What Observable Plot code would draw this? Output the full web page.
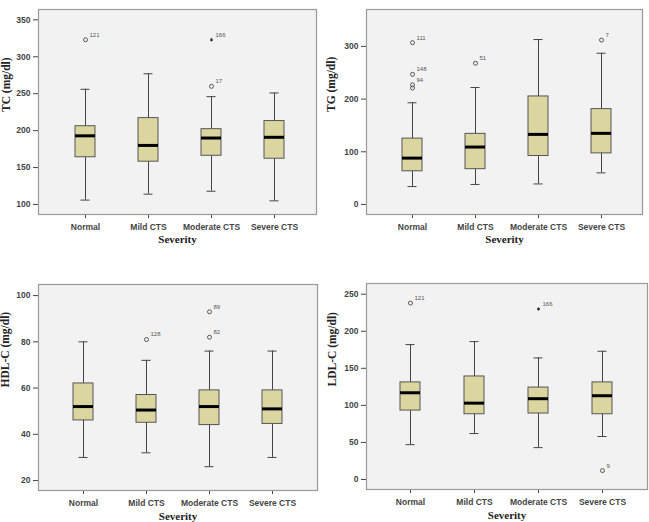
<!DOCTYPE html>
<html>
<head>
<meta charset="utf-8">
<script src="https://cdn.jsdelivr.net/npm/d3@7"></script>
<script src="https://cdn.jsdelivr.net/npm/@observablehq/plot@0.6"></script>
<style>
  body { margin: 0; background: #fff; }
  #grid { position: relative; width: 649px; height: 522px; }
  #grid > div { position: absolute; }
</style>
</head>
<body>
<div id="grid"></div>
<script>
// Severity groups shared by all four panels
const categories = ["Normal", "Mild CTS", "Moderate CTS", "Severe CTS"];

// Total cholesterol (TC)
const tcLow  = [106, 114, 118, 105];
const tcQ1   = [164, 158, 166, 162];
const tcMed  = [193, 180, 190, 191];
const tcQ3   = [206, 217, 202, 213];
const tcHigh = [256, 277, 246, 251];
const tcOutCat  = ["Normal", "Moderate CTS", "Moderate CTS"];
const tcOutVal  = [323, 260, 323];
const tcOutId   = ["121", "17", "166"];
const tcOutKind = ["o", "o", "*"];
const tcTicks = [100, 150, 200, 250, 300, 350];

// Triglycerides (TG)
const tgLow  = [34, 38, 39, 60];
const tgQ1   = [63, 67, 92, 97];
const tgMed  = [88, 109, 133, 135];
const tgQ3   = [125, 134, 205, 181];
const tgHigh = [193, 222, 313, 287];
const tgOutCat  = ["Normal", "Normal", "Normal", "Normal", "Mild CTS", "Severe CTS"];
const tgOutVal  = [307, 247, 227, 221, 268, 312];
const tgOutId   = ["111", "148", "94", "", "51", "7"];
const tgOutKind = ["o", "o", "o", "o", "o", "o"];
const tgTicks = [0, 100, 200, 300];

// HDL cholesterol
const hdlLow  = [30, 32, 26, 30];
const hdlQ1   = [46, 45, 44, 44.5];
const hdlMed  = [52, 50.5, 52, 51];
const hdlQ3   = [62, 57, 59, 59];
const hdlHigh = [80, 72, 76, 76];
const hdlOutCat  = ["Mild CTS", "Moderate CTS", "Moderate CTS"];
const hdlOutVal  = [81, 93, 82];
const hdlOutId   = ["128", "89", "82"];
const hdlOutKind = ["o", "o", "o"];
const hdlTicks = [20, 40, 60, 80, 100];

// LDL cholesterol
const ldlLow  = [47, 62, 43, 58];
const ldlQ1   = [93, 88, 89, 88];
const ldlMed  = [117, 103, 109, 113];
const ldlQ3   = [131, 139, 124, 131];
const ldlHigh = [182, 186, 164, 173];
const ldlOutCat  = ["Normal", "Moderate CTS", "Severe CTS"];
const ldlOutVal  = [238, 230, 12];
const ldlOutId   = ["121", "166", "9"];
const ldlOutKind = ["o", "*", "o"];
const ldlTicks = [0, 50, 100, 150, 200, 250];

function boxRows(low, q1, med, q3, high) {
  return categories.map((c, i) => ({cat: c, low: low[i], q1: q1[i], med: med[i], q3: q3[i], high: high[i]}));
}
function outRows(cat, val, id, kind) {
  return cat.map((c, i) => ({cat: c, v: val[i], id: id[i], kind: kind[i]}));
}

function panel({left, top, width, height, margin, domain, ticks, yLabel, boxes, outs, yLabelDx, xLabelDy, align}) {
  const circles = outs.filter(d => d.kind === "o");
  const stars = outs.filter(d => d.kind === "*");
  const chart = Plot.plot({
    width, height,
    marginLeft: margin[0], marginRight: margin[1], marginTop: margin[2], marginBottom: margin[3],
    style: {fontFamily: "'Liberation Sans', Arial, sans-serif", fontSize: "8.5px", fontWeight: "bold", color: "#444", background: "transparent", overflow: "visible"},
    x: {domain: categories, paddingInner: 0.685, paddingOuter: 0.53, align, tickSize: 4, tickPadding: 5, label: null},
    y: {domain, ticks, tickSize: 5, tickPadding: 3, label: null},
    marks: [
      Plot.frame({fill: "#f2f2f2", stroke: "#9a9a9a", strokeWidth: 1.2}),
      Plot.ruleX(boxes, {x: "cat", y1: "low", y2: "high", stroke: "#444", strokeWidth: 1}),
      Plot.tickY(boxes, {x: "cat", y: "low", stroke: "#444", insetLeft: 5.5, insetRight: 5.5}),
      Plot.tickY(boxes, {x: "cat", y: "high", stroke: "#444", insetLeft: 5.5, insetRight: 5.5}),
      Plot.barY(boxes, {x: "cat", y1: "q1", y2: "q3", fill: "#dbd6a0", stroke: "#555", strokeWidth: 1}),
      Plot.tickY(boxes, {x: "cat", y: "med", stroke: "#000", strokeWidth: 3}),
      Plot.dot(circles, {x: "cat", y: "v", r: 2, stroke: "#555", strokeWidth: 1, fill: "none"}),
      Plot.dot(stars, {x: "cat", y: "v", r: 1.5, symbol: "asterisk", stroke: "#333", strokeWidth: 1}),
      Plot.text(outs, {x: "cat", y: "v", text: "id", dx: 4, dy: -5, textAnchor: "start", fontSize: 6, fontWeight: "normal", fill: "#555"}),
      Plot.text([yLabel], {frameAnchor: "left", dx: yLabelDx, rotate: -90, fontFamily: "'Liberation Serif', 'Times New Roman', serif", fontWeight: "bold", fontSize: 11.5, fill: "#222"}),
      Plot.text(["Severity"], {frameAnchor: "bottom", dy: xLabelDy, fontFamily: "'Liberation Serif', 'Times New Roman', serif", fontWeight: "bold", fontSize: 11, fill: "#222"})
    ]
  });
  const holder = document.createElement("div");
  holder.style.left = left + "px";
  holder.style.top = top + "px";
  holder.appendChild(chart);
  document.getElementById("grid").appendChild(holder);
}

panel({
  left: 0, top: 0, width: 325, height: 260, margin: [38, 9, 9, 46],
  domain: [86.5, 364], ticks: tcTicks, yLabel: "TC (mg/dl)", yLabelDx: -32, xLabelDy: 28.5, align: 0.53,
  boxes: boxRows(tcLow, tcQ1, tcMed, tcQ3, tcHigh),
  outs: outRows(tcOutCat, tcOutVal, tcOutId, tcOutKind)
});
panel({
  left: 325, top: 0, width: 324, height: 260, margin: [41, 7, 9, 46],
  domain: [-19, 370], ticks: tgTicks, yLabel: "TG (mg/dl)", yLabelDx: -35, xLabelDy: 28.5, align: 0.53,
  boxes: boxRows(tgLow, tgQ1, tgMed, tgQ3, tgHigh),
  outs: outRows(tgOutCat, tgOutVal, tgOutId, tgOutKind)
});
panel({
  left: 0, top: 260, width: 325, height: 262, margin: [38, 8, 24, 32],
  domain: [15.7, 104.8], ticks: hdlTicks, yLabel: "HDL-C (mg/dl)", yLabelDx: -33, xLabelDy: 29, align: 0.5,
  boxes: boxRows(hdlLow, hdlQ1, hdlMed, hdlQ3, hdlHigh),
  outs: outRows(hdlOutCat, hdlOutVal, hdlOutId, hdlOutKind)
});
panel({
  left: 325, top: 260, width: 324, height: 262, margin: [41, 2, 23, 33],
  domain: [-13.5, 264.4], ticks: ldlTicks, yLabel: "LDL-C (mg/dl)", yLabelDx: -34, xLabelDy: 29, align: 0.49,
  boxes: boxRows(ldlLow, ldlQ1, ldlMed, ldlQ3, ldlHigh),
  outs: outRows(ldlOutCat, ldlOutVal, ldlOutId, ldlOutKind)
});
</script>
</body>
</html>
